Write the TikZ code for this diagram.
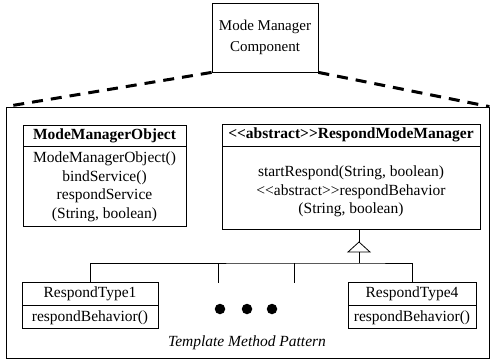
\documentclass[tikz,border=0pt]{standalone}
\usepackage{fontspec}
\setmainfont{Liberation Serif}
\begin{document}
\begin{tikzpicture}[x=1pt,y=-1pt, line width=0.8pt,
  every node/.style={font=\fontsize{15.5}{18.5}\selectfont, inner sep=0pt},
  umlbox/.style={draw, rectangle, align=center, minimum width=#1},
  hdr/.style={font=\fontsize{15.5}{18.5}\selectfont\bfseries},
  dashline/.style={line width=3pt, dash pattern=on 11pt off 8pt},
  dotnode/.style={circle, fill=black, draw=none, minimum size=10.5pt}]
\useasboundingbox (0,0) rectangle (492,360);

% component box and outer frame
\node[draw, minimum width=106pt, minimum height=69pt, align=center,
      font=\fontsize{15}{21}\selectfont] (comp) at (265,37.5) {Mode Manager\\Component};
\node[draw, minimum width=483pt, minimum height=251pt] (frame) at (247.5,232.5) {};
\draw[dashline] (comp.south west) -- (frame.north west);
\draw[dashline] (comp.south east) -- (frame.north east);

% ModeManagerObject
\node[umlbox=163pt, minimum height=21pt, hdr] (mmoh) at (104.5,135.5) {ModeManagerObject};
\node[umlbox=163pt, minimum height=80pt, anchor=north] (mmob) at (mmoh.south)
  {ModeManagerObject()\\bindService()\\respondService\\(String, boolean)};

% RespondModeManager
\node[umlbox=258pt, minimum height=22pt, hdr] (rmmh) at (351,135)
  {<\kern0pt<abstract>\kern0pt>RespondModeManager};
\node[umlbox=258pt, minimum height=83pt, anchor=north] (rmmb) at (rmmh.south) {};
\node[align=center] (rmmt) at ([yshift=-3pt]rmmb.center)
  {startRespond(String, boolean)\\<\kern0pt<abstract>\kern0pt>respondBehavior\\(String, boolean)};

% subclasses
\node[umlbox=136pt, minimum height=23pt] (rt1h) at (90,293.5) {RespondType1};
\node[umlbox=136pt, minimum height=23pt, anchor=north] (rt1b) at (rt1h.south) {respondBehavior()};
\node[umlbox=128pt, minimum height=23pt] (rt4h) at (412,293.5) {RespondType4};
\node[umlbox=128pt, minimum height=23pt, anchor=north] (rt4b) at (rt4h.south) {respondBehavior()};

% inheritance
\coordinate (apex) at (359,242);
\coordinate (tribase) at (359,252);
\coordinate (bus) at (359,263);
\coordinate (b2) at (218,263);
\coordinate (b3) at (294,263);
\coordinate (e2) at (218,283);
\coordinate (e3) at (294,283);
\draw (rmmb.south -| apex) -- (apex);
\draw (apex) -- (348,252) -- (370,252) -- cycle;
\draw (tribase) -- (bus);
\draw (rt1h.north) |- (bus) -| (rt4h.north);
\draw (b2) -- (e2);
\draw (b3) -- (e3);

% ellipsis dots
\node[dotnode] (d1) at (220,309) {};
\node[dotnode] (d2) at (247,309) {};
\node[dotnode] (d3) at (272,309) {};

\node[font=\fontsize{15.5}{18.5}\selectfont\itshape] (title) at (247,343) {Template Method Pattern};
\end{tikzpicture}
\end{document}
